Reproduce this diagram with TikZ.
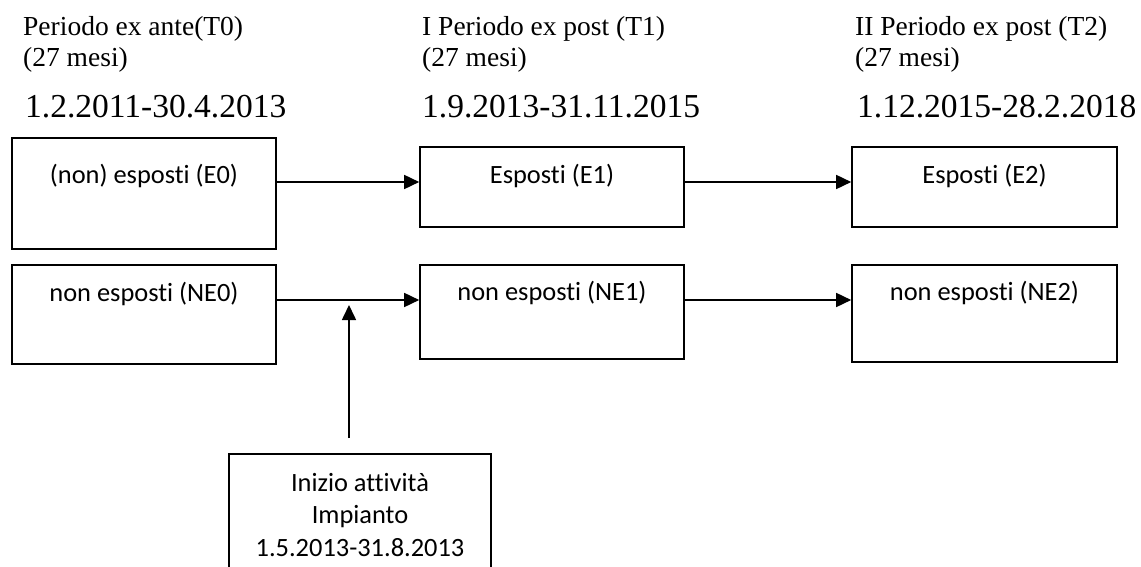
\documentclass[tikz,border=0pt]{standalone}
\usepackage{fontspec}
\setmainfont{Liberation Serif}
\newfontfamily\boxfont[Ligatures=NoCommon]{Carlito}
\usetikzlibrary{arrows.meta}
\tikzset{
  box/.style={draw=black, line width=1.6pt, rectangle, inner sep=0pt},
  boxtxt/.style={inner sep=0pt, anchor=base, font=\boxfont\fontsize{26.4}{32.5}\selectfont, align=center},
  hdr/.style={inner sep=0pt, anchor=base west, font=\fontsize{27.5}{31}\selectfont, align=left},
  dates/.style={inner sep=0pt, anchor=base west, font=\fontsize{33.5}{40}\selectfont},
  arr/.style={line width=1.6pt, -{Triangle[length=15pt,width=14pt]}}
}
\begin{document}
\begin{tikzpicture}[x=1pt,y=-1pt]
\useasboundingbox (0,0) rectangle (1141,567);
\clip (0,0) rectangle (1141,567);
\fill[white] (0,0) rectangle (1141,567);

% headers (base anchor = baseline of last line)
\node[hdr] (h0) at (23,67) {Periodo ex ante(T0)\\(27 mesi)};
\node[hdr] (h1) at (422,67) {I Periodo ex post (T1)\\(27 mesi)};
\node[hdr] (h2) at (855,67) {II Periodo ex post (T2)\\(27 mesi)};

\node[dates] (d0) at (25,118) {1.2.2011-30.4.2013};
\node[dates] (d1) at (422,118) {1.9.2013-31.11.2015};
\node[dates] (d2) at (857,118) {1.12.2015-28.2.2018};

% boxes
\node[box, minimum width=264, minimum height=111] (E0) at (144,193.5) {};
\node[box, minimum width=264, minimum height=80] (E1) at (552,187) {};
\node[box, minimum width=265, minimum height=80] (E2) at (984.5,187) {};
\node[box, minimum width=264, minimum height=99] (NE0) at (144,314.5) {};
\node[box, minimum width=264, minimum height=94] (NE1) at (552,312) {};
\node[box, minimum width=265, minimum height=97] (NE2) at (984.5,313.5) {};
\node[box, minimum width=262, minimum height=140] (I) at (360,524) {};

% box texts
\node[boxtxt] (tE0) at (144,183) {(non) esposti (E0)};
\node[boxtxt] (tE1) at (552,183) {Esposti (E1)};
\node[boxtxt] (tE2) at (984.5,183) {Esposti (E2)};
\node[boxtxt] (tNE0) at (144,301) {non esposti (NE0)};
\node[boxtxt] (tNE1) at (552,300) {non esposti (NE1)};
\node[boxtxt] (tNE2) at (984.5,300) {non esposti (NE2)};
\node[boxtxt] (tI) at (360,556) {Inizio attività\\Impianto\\1.5.2013-31.8.2013};

% rows for arrows
\coordinate (r1) at (0,182);
\coordinate (r2) at (0,300);
\coordinate (vs) at (349,438);
\coordinate (vt) at (349,305);

\draw[arr] (E0.east |- r1) -- (E1.west |- r1);
\draw[arr] (E1.east |- r1) -- (E2.west |- r1);
\draw[arr] (NE0.east |- r2) -- (NE1.west |- r2);
\draw[arr] (NE1.east |- r2) -- (NE2.west |- r2);
\draw[arr] (vs) -- (vt);
\end{tikzpicture}
\end{document}
